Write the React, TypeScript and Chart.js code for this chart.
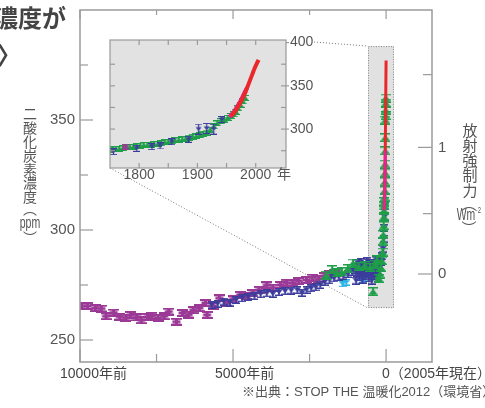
import React, { useEffect, useRef } from 'react';
import { Chart, registerables } from 'chart.js';

Chart.register(...registerables);

// ---------- main chart data (x: years before 2005, y: ppm) ----------
const purpleYears = [9950, 9750, 9500, 9300, 9150, 8900, 8700, 8500, 8350, 8150, 8000, 7800, 7650, 7450, 7250, 7100, 6850, 6650, 6450, 6300, 6100, 5900, 5850, 5650, 5450, 5200, 5000, 4770, 4550, 4350, 4150, 3900, 3700, 3450, 3250, 3050, 2850, 2600, 2400, 2200, 2000, 1850, 1700, 1600];
const purplePpm = [265.3, 265.5, 264.5, 264.3, 260.8, 262.5, 260.6, 260.2, 261.4, 260.3, 259.0, 260.5, 261.0, 260.0, 260.8, 262.9, 258.3, 262.3, 261.5, 263.6, 264.5, 266.8, 261.4, 265.5, 269.0, 266.8, 268.5, 270.5, 270.0, 271.3, 272.8, 274.9, 273.8, 275.0, 276.0, 275.9, 276.8, 277.3, 278.4, 277.6, 279.0, 279.8, 280.5, 281.0];

const blueYears = [5700, 5500, 5300, 5100, 4900, 4700, 4500, 4300, 4100, 3900, 3700, 3500, 3300, 3100, 2900, 2750, 2600, 2450, 2300, 2150, 2000, 1850, 1700, 1550, 1400, 1250, 1100, 1000, 980, 950, 920, 900, 870, 850, 820, 800, 770, 750, 720, 700, 670, 650, 620, 600, 570, 550, 520, 500, 470, 450, 420, 400, 370, 350, 320, 300, 270, 250, 220, 200, 150, 120, 100, 80, 65, 50, 38];
const bluePpm = [266.0, 266.5, 267.5, 267.0, 268.2, 269.0, 269.5, 270.0, 270.8, 271.2, 271.0, 271.8, 272.2, 272.5, 272.7, 271.5, 272.8, 273.5, 274.0, 275.0, 276.5, 277.2, 278.0, 278.6, 279.2, 280.0, 281.0, 282.0, 277.0, 280.5, 285.0, 283.0, 278.5, 281.5, 285.5, 282.5, 277.5, 280.8, 284.0, 283.2, 279.0, 281.8, 286.0, 282.5, 278.0, 281.0, 284.5, 283.0, 277.0, 281.8, 285.0, 280.5, 279.0, 282.0, 286.5, 280.0, 278.0, 281.5, 287.0, 283.0, 285.5, 288.0, 291.5, 296.0, 301.0, 306.0, 311.0];

const greenYears = [1950, 1760, 1600, 1450, 1250, 1080, 900, 700, 520, 425, 350, 300, 240, 200, 170, 140, 115, 100, 90, 80, 72, 65, 58, 52, 47, 42, 37, 33, 30, 27, 24, 21, 18, 15, 12, 9];
const greenPpm = [279.5, 282.0, 280.5, 281.0, 282.5, 285.0, 283.5, 284.0, 283.0, 272.0, 284.5, 286.5, 278, 280, 283, 286, 290, 295, 298, 302, 306, 309, 311, 313, 315, 318, 322, 326, 330, 336, 342, 350, 352, 354.5, 357.7, 360];

const cyanYears = [1420, 1300, 800, 700];
const cyanPpm = [275.5, 276.2, 277.0, 278.0];

const redYears = [47, 44, 40, 35, 30, 25, 20, 15, 10, 5, 0];
const redPpm = [315, 317, 320, 326, 332, 339, 346, 354, 362, 370, 377];

const pinkYears = [62, 52, 45, 40, 35, 30, 25];
const pinkPpm = [309, 313, 317, 320, 325, 330, 336];

// highlighted period (gray box) in data units
const boxYears = [591, -258];
const boxPpm = [264.5, 383.6];

// axis ticks
const xTickValues = [10000, 5000, 0];
const xTickLabels = ['10000年前', '5000年前', '0（2005年現在）'];
const xMinorTicks = [7500, 2500];
const yTickValues = [350, 300, 250];
const yMinorTicks = [375, 325, 275];
const forcingTicks = [0, 0.5, 1, 1.5];
const forcingLabels = ['0', '', '1', ''];

// ---------- inset data (x: year AD, y: ppm) ----------
const insetGreenYears = [1750, 1755, 1760, 1766, 1772, 1778, 1784, 1790, 1796, 1802, 1808, 1814, 1820, 1826, 1832, 1838, 1844, 1850, 1856, 1862, 1868, 1874, 1880, 1886, 1892, 1898, 1904, 1910, 1916, 1922, 1928, 1934, 1940, 1946, 1952, 1958, 1962, 1966, 1970, 1974, 1978, 1982];
const insetGreenPpm = [276.0, 277.0, 276.5, 277.5, 278.0, 278.8, 279.0, 279.5, 280.0, 281.0, 281.6, 281.5, 282.0, 282.5, 283.0, 283.5, 284.5, 285.5, 286.0, 286.8, 287.4, 288.0, 289.0, 290.0, 291.0, 292.0, 293.0, 294.5, 296.0, 299.5, 303.0, 306.5, 309.0, 311.0, 313.0, 315.0, 317.0, 320.0, 324.0, 328.0, 332.0, 336.0];

const insetBlueYears = [1756, 1796, 1822, 1836, 1856, 1885, 1942];
const insetBluePpm = [274.0, 277.8, 279.7, 280.5, 285.4, 288.2, 311.1];
const insetBlueBigYears = [1902, 1916, 1928];
const insetBlueBigPpm = [300.0, 300.8, 300.0];
const insetPurpleYears = [1776];
const insetPurplePpm = [279.7];

const insetRedYears = [1958, 1962, 1966, 1970, 1974, 1978, 1982, 1986, 1990, 1994, 1998, 2002, 2005];
const insetRedPpm = [315, 318, 321.5, 326, 331, 336, 342, 349, 356, 363, 370, 376, 380];
const insetPinkYears = [1955, 1960, 1965, 1970, 1975, 1980, 1985];
const insetPinkPpm = [314, 318, 322.5, 328, 334, 341, 348];

const insetXLabels = [1800, 1900, 2000];
const insetXTicks = [1800, 1850, 1900, 1950, 2000];
const insetYLabels = [400, 350, 300];
const insetYTicks = [375, 350, 325, 300, 275];

// ---------- styles ----------
const PURPLE = '#9b3a96';
const BLUE = '#3b3c9c';
const GREEN = '#1f9f49';
const CYAN = '#27b3e4';
const RED = '#ea272b';
const PINK = '#e8218b';
const AXIS = '#9a9a9a';
const TEXT = '#555555';
const FONT = '"Liberation Sans", "Noto Sans CJK JP", sans-serif';
const CJK = '"Noto Sans CJK JP", sans-serif';

type Kind = 'bar' | 'down' | 'up';
function makeGlyph(color: string, kind: Kind, w: number, h: number, cap: number, stem: number, bw: number, bh: number) {
  const c = document.createElement('canvas');
  c.width = w;
  c.height = h;
  const g = c.getContext('2d')!;
  g.fillStyle = color;
  const cx = w / 2;
  g.fillRect(0, 0, w, cap);
  g.fillRect(0, h - cap, w, cap);
  g.fillRect(cx - stem / 2, 0, stem, h);
  const cy = h / 2;
  if (kind === 'bar') {
    g.fillRect(cx - bw / 2, cy - bh / 2, bw, bh);
  } else {
    g.beginPath();
    if (kind === 'down') {
      g.moveTo(cx - bw / 2, cy - bh / 2);
      g.lineTo(cx + bw / 2, cy - bh / 2);
      g.lineTo(cx, cy + bh / 2);
    } else {
      g.moveTo(cx - bw / 2, cy + bh / 2);
      g.lineTo(cx + bw / 2, cy + bh / 2);
      g.lineTo(cx, cy - bh / 2);
    }
    g.closePath();
    g.fill();
  }
  return c;
}

const pts = (xs: number[], ys: number[]) => xs.map((x, i) => ({ x, y: ys[i] }));
const ppmForForcing = (f: number) => 280 * Math.exp(f / 5.35);

function line(ctx: CanvasRenderingContext2D, x1: number, y1: number, x2: number, y2: number) {
  ctx.beginPath();
  ctx.moveTo(x1, y1);
  ctx.lineTo(x2, y2);
  ctx.stroke();
}

function vText(ctx: CanvasRenderingContext2D, chars: string[], x: number, y0: number, step: number) {
  chars.forEach((c, i) => ctx.fillText(c, x, y0 + i * step));
}

const mainDecor = {
  id: 'mainDecor',
  beforeDatasetsDraw(chart: any) {
    const { ctx } = chart;
    const x = chart.scales.x;
    const y = chart.scales.y;
    const bx1 = x.getPixelForValue(boxYears[0]);
    const bx2 = x.getPixelForValue(boxYears[1]);
    const by1 = y.getPixelForValue(boxPpm[1]);
    const by2 = y.getPixelForValue(boxPpm[0]);
    ctx.save();
    ctx.fillStyle = '#e1e1e1';
    ctx.fillRect(bx1, by1, bx2 - bx1, by2 - by1);
    ctx.setLineDash([1, 1.5]);
    ctx.strokeStyle = '#8a8a8a';
    ctx.lineWidth = 1;
    ctx.strokeRect(bx1 + 0.5, by1 + 0.5, bx2 - bx1 - 1, by2 - by1 - 1);
    ctx.restore();
  },
  afterDraw(chart: any) {
    const { ctx, chartArea: a } = chart;
    const x = chart.scales.x;
    const y = chart.scales.y;
    ctx.save();
    // dotted connector lines
    const bx1 = x.getPixelForValue(boxYears[0]);
    const by1 = y.getPixelForValue(boxPpm[1]);
    const by2 = y.getPixelForValue(boxPpm[0]);
    ctx.setLineDash([1, 2]);
    ctx.strokeStyle = '#777';
    ctx.lineWidth = 1;
    line(ctx, 314, 42, bx1, by1);
    line(ctx, 110, 168, bx1, by2);
    ctx.setLineDash([]);

    // frame
    ctx.strokeStyle = AXIS;
    ctx.lineWidth = 1.5;
    ctx.strokeRect(a.left, a.top, a.right - a.left, a.bottom - a.top);
    ctx.lineWidth = 1.2;
    yTickValues.forEach((v) => { const p = y.getPixelForValue(v); line(ctx, a.left, p, a.left + 13, p); });
    yMinorTicks.forEach((v) => { const p = y.getPixelForValue(v); line(ctx, a.left, p, a.left + 8, p); });
    xTickValues.forEach((v) => {
      const p = x.getPixelForValue(v);
      line(ctx, p, a.bottom, p, a.bottom - 13);
      line(ctx, p, a.top, p, a.top + 9);
    });
    xMinorTicks.forEach((v) => {
      const p = x.getPixelForValue(v);
      line(ctx, p, a.bottom, p, a.bottom - 8);
      line(ctx, p, a.top, p, a.top + 5);
    });
    forcingTicks.forEach((f) => {
      const p = y.getPixelForValue(ppmForForcing(f));
      const len = Number.isInteger(f) ? 14 : 9;
      line(ctx, a.right, p, a.right - len, p);
    });

    // tick labels
    ctx.fillStyle = TEXT;
    ctx.font = `15px ${FONT}`;
    ctx.textBaseline = 'middle';
    ctx.textAlign = 'right';
    yTickValues.forEach((v) => ctx.fillText(String(v), a.left - 5, y.getPixelForValue(v)));
    ctx.textAlign = 'left';
    forcingTicks.forEach((f, i) => {
      if (forcingLabels[i]) ctx.fillText(forcingLabels[i], a.right + 6, y.getPixelForValue(ppmForForcing(f)));
    });
    ctx.font = `14px ${FONT}`;
    ctx.fillStyle = '#444';
    const xOffsets = [-20, -18, -4];
    xTickValues.forEach((v, i) => ctx.fillText(xTickLabels[i], x.getPixelForValue(v) + xOffsets[i], a.bottom + 12));

    // axis titles (vertical)
    ctx.fillStyle = TEXT;
    ctx.textAlign = 'center';
    ctx.font = `14px ${CJK}`;
    vText(ctx, ['二', '酸', '化', '炭', '素', '濃', '度'], 30, 114, 13.8);
    ctx.fillText('︵', 30, 209);
    ctx.save();
    ctx.translate(30, 223);
    ctx.scale(0.62, 1);
    ctx.font = `17px ${FONT}`;
    ctx.fillText('ppm', 0, 0);
    ctx.restore();
    ctx.fillText('︶', 30, 238);

    ctx.font = `15px ${CJK}`;
    vText(ctx, ['放', '射', '強', '制', '力'], 470, 130, 15);
    ctx.fillText('︵', 469, 203);
    ctx.save();
    ctx.translate(466, 216);
    ctx.scale(0.65, 1);
    ctx.font = `16px ${FONT}`;
    ctx.fillText('Wm', 0, 0);
    ctx.font = `9px ${FONT}`;
    ctx.fillText('-2', 19, -5);
    ctx.restore();
    ctx.fillText('︶', 469, 228);

    // title fragment
    ctx.fillStyle = '#444';
    ctx.textAlign = 'left';
    ctx.font = `bold 24px ${CJK}`;
    ctx.fillText('濃度が', -6, 18);
    ctx.fillText('〉', -3, 55);

    // source
    ctx.fillStyle = TEXT;
    ctx.font = `13px ${FONT}`;
    ctx.fillText('※出典：STOP THE 温暖化2012（環境省）', 242, 392);
    ctx.restore();
  },
};

const insetDecor = {
  id: 'insetDecor',
  beforeDatasetsDraw(chart: any) {
    const { ctx, chartArea: a } = chart;
    ctx.save();
    ctx.fillStyle = '#e2e2e2';
    ctx.fillRect(a.left, a.top, a.right - a.left, a.bottom - a.top);
    ctx.restore();
  },
  afterDatasetsDraw(chart: any) {
    const { ctx, chartArea: a } = chart;
    const x = chart.scales.x;
    const y = chart.scales.y;
    ctx.save();
    ctx.strokeStyle = AXIS;
    ctx.lineWidth = 1.2;
    ctx.strokeRect(a.left, a.top, a.right - a.left, a.bottom - a.top);
    insetXTicks.forEach((v) => {
      const p = x.getPixelForValue(v);
      line(ctx, p, a.top, p, a.top + 5);
      line(ctx, p, a.bottom, p, a.bottom - 5);
    });
    insetYTicks.forEach((v) => {
      const p = y.getPixelForValue(v);
      line(ctx, a.left, p, a.left + 5, p);
      line(ctx, a.right, p, a.right - 5, p);
    });
    insetYLabels.forEach((v) => {
      const p = y.getPixelForValue(v);
      line(ctx, a.right, p, a.right + 3, p);
    });
    ctx.fillStyle = TEXT;
    ctx.font = `14px ${FONT}`;
    ctx.textBaseline = 'middle';
    ctx.textAlign = 'left';
    insetYLabels.forEach((v) => ctx.fillText(String(v), a.right + 4, y.getPixelForValue(v)));
    ctx.textAlign = 'center';
    insetXLabels.forEach((v) => ctx.fillText(String(v), x.getPixelForValue(v), a.bottom + 7));
    ctx.fillText('年', a.right - 2, a.bottom + 7);
    ctx.restore();
  },
};

export default function App() {
  const mainRef = useRef<HTMLCanvasElement>(null);
  const insetRef = useRef<HTMLCanvasElement>(null);

  useEffect(() => {
    document.body.style.margin = '0';
    const gPurple = makeGlyph(PURPLE, 'bar', 11, 8, 2, 3, 8, 3);
    const gBlue = makeGlyph(BLUE, 'down', 8, 8, 1.5, 1.5, 7, 5);
    const gGreen = makeGlyph(GREEN, 'up', 10, 9, 1.5, 2, 9, 6);
    const gCyan = makeGlyph(CYAN, 'down', 8, 7, 1.5, 1.5, 7, 4);
    const giGreen = makeGlyph(GREEN, 'up', 8, 6, 1, 1.5, 7, 5);
    const giBlue = makeGlyph(BLUE, 'down', 7, 7, 1, 1.2, 6, 4);
    const giBlueBig = makeGlyph(BLUE, 'down', 7, 11, 1, 1.2, 6, 4);
    const giPurple = makeGlyph(PURPLE, 'bar', 7, 6, 1, 1.5, 6, 3);

    const common: any = {
      animation: false,
      responsive: false,
      maintainAspectRatio: false,
      events: [],
      plugins: { legend: { display: false }, tooltip: { enabled: false } },
    };

    const main = new Chart(mainRef.current!, {
      type: 'scatter',
      data: {
        datasets: [
          { data: pts(pinkYears, pinkPpm), showLine: true, borderColor: PINK, borderWidth: 3, pointRadius: 0, cubicInterpolationMode: 'monotone' } as any,
          { data: pts(redYears, redPpm), showLine: true, borderColor: RED, borderWidth: 3, pointRadius: 0, cubicInterpolationMode: 'monotone' } as any,
          { data: pts(greenYears, greenPpm), pointStyle: gGreen, pointRadius: 4 },
          { data: pts(blueYears, bluePpm), pointStyle: gBlue, pointRadius: 4 },
          { data: pts(cyanYears, cyanPpm), pointStyle: gCyan, pointRadius: 4 },
          { data: pts(purpleYears, purplePpm), pointStyle: gPurple, pointRadius: 4 },
        ],
      },
      options: {
        ...common,
        layout: { padding: { left: 80, top: 10, right: 53, bottom: 46 } },
        scales: {
          x: { type: 'linear', min: -1500, max: 10000, reverse: true, display: false },
          y: { type: 'linear', min: 240, max: 400, display: false },
        },
      },
      plugins: [mainDecor],
    });

    const inset = new Chart(insetRef.current!, {
      type: 'scatter',
      data: {
        datasets: [
          { data: pts(insetRedYears, insetRedPpm), showLine: true, borderColor: RED, borderWidth: 4, pointRadius: 0, cubicInterpolationMode: 'monotone' } as any,
          { data: pts(insetPinkYears, insetPinkPpm), showLine: true, borderColor: PINK, borderWidth: 4, pointRadius: 0, cubicInterpolationMode: 'monotone' } as any,
          { data: pts(insetBlueYears, insetBluePpm), pointStyle: giBlue, pointRadius: 3 },
          { data: pts(insetBlueBigYears, insetBlueBigPpm), pointStyle: giBlueBig, pointRadius: 3 },
          { data: pts(insetPurpleYears, insetPurplePpm), pointStyle: giPurple, pointRadius: 3 },
          { data: pts(insetGreenYears, insetGreenPpm), pointStyle: giGreen, pointRadius: 3 },
        ],
      },
      options: {
        ...common,
        layout: { padding: { left: 110, top: 40, right: 199, bottom: 240 } },
        scales: {
          x: { type: 'linear', min: 1750, max: 2052, display: false },
          y: { type: 'linear', min: 255, max: 403, display: false },
        },
      },
      plugins: [insetDecor],
    });

    return () => {
      main.destroy();
      inset.destroy();
    };
  }, []);

  return (
    <div style={{ position: 'fixed', left: 0, top: 0, width: 485, height: 408, background: '#fff' }}>
      <canvas ref={mainRef} width={485} height={408} style={{ position: 'absolute', left: 0, top: 0 }} />
      <canvas ref={insetRef} width={485} height={408} style={{ position: 'absolute', left: 0, top: 0 }} />
    </div>
  );
}
